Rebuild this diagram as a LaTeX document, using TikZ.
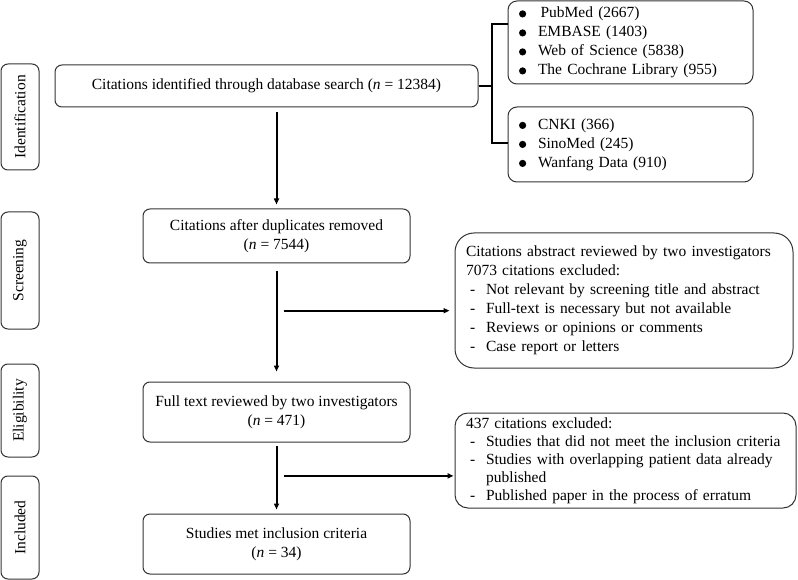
\documentclass[tikz,border=0pt]{standalone}
\usepackage{fontspec}
\setmainfont{Liberation Serif}
\usetikzlibrary{arrows.meta,calc}

% dash item / bullet item used in the side boxes
\newcommand{\dashitem}[1]{\makebox[20pt][l]{\hspace{4pt}-}#1}
\newcommand{\dbitem}[1]{\makebox[19pt][l]{\tikz[baseline=-3.8pt]\fill (0,0) circle (3.6pt);}#1}

\begin{document}
\begin{tikzpicture}[x=1pt,y=-1pt,
    font=\fontsize{15.5}{19}\selectfont,
    every node/.style={inner sep=0pt},
    box/.style={draw=black!80,line width=1pt,rounded corners=7pt,align=center},
    sidebox/.style={box,rotate=90,minimum height=38pt},
    listbox/.style={draw=black!80,line width=1pt,rounded corners=13pt,align=left,inner xsep=11pt},
    arr/.style={-{Triangle[length=6pt,width=5pt]},line width=2pt}]
  \useasboundingbox (0,0) rectangle (798,580);

  % STAGES
  \node[sidebox,minimum width=106pt] (sid)  at (20,117)   {Identification};
  \node[sidebox,minimum width=117pt] (sscr) at (20,270.5) {Screening};
  \node[sidebox,minimum width=93pt]  (sel)  at (20,410.5) {Eligibility};
  \node[sidebox,minimum width=103pt] (sinc) at (20,527.5) {Included};

  % MAIN BOXES
  \node[box,minimum width=423pt,minimum height=42pt] (ident) at (266.5,86)
    {Citations identified through database search (\textit{n} = 12384)};
  \node[box,minimum width=267pt,minimum height=54pt] (dupl) at (276.5,236)
    {Citations after duplicates removed\\(\textit{n} = 7544)};
  \node[box,minimum width=267pt,minimum height=60pt] (full) at (276.5,412)
    {Full text reviewed by two investigators\\(\textit{n} = 471)};
  \node[box,minimum width=267pt,minimum height=60pt] (incl) at (276.5,544)
    {Studies met inclusion criteria\\(\textit{n} = 34)};

  % DATABASES
  \node[listbox,rounded corners=9pt,text width=223pt,minimum height=83pt] (dbeng) at (630.5,42.5)
    {\dbitem{\,PubMed (2667)}\\\dbitem{EMBASE (1403)}\\\dbitem{Web of Science (5838)}\\\dbitem{The Cochrane Library (955)}};
  \node[listbox,rounded corners=9pt,text width=223pt,minimum height=75pt] (dbchn) at (630.5,144.5)
    {\dbitem{CNKI (366)}\\\dbitem{SinoMed (245)}\\\dbitem{Wanfang Data (910)}};

  % EXCLUSIONS
  \node[listbox,rounded corners=19pt,text width=316pt,minimum height=135pt] (exabs) at (624,300.5)
    {Citations abstract reviewed by two investigators\\
     7073 citations excluded:\\
     \dashitem{Not relevant by screening title and abstract}\\
     \dashitem{Full-text is necessary but not available}\\
     \dashitem{Reviews or opinions or comments}\\
     \dashitem{Case report or letters}};
  \node[listbox,font=\fontsize{15.5}{18}\selectfont,text width=319pt,minimum height=95pt,inner xsep=11pt] (exfull) at (625.5,460.5)
    {437 citations excluded:\\
     \dashitem{Studies that did not meet the inclusion criteria}\\
     \dashitem{Studies with overlapping patient data already}\\
     \hspace*{20pt}published\\
     \dashitem{Published paper in the process of erratum}};

  % BRACKET
  \draw[line width=2pt] (ident.east) -- ++(13,0) coordinate (bm)
    (dbeng.west |- 0,24) -- (bm |- 0,24) -- (bm |- 0,143) -- (dbchn.west |- 0,143);

  % ARROWS
  \draw[arr,shorten <=5pt,shorten >=4pt] (ident.south -| dupl.north) -- (dupl.north);
  \draw[arr,shorten <=7pt,shorten >=10pt] (dupl.south) -- (full.north);
  \draw[arr,shorten <=3pt,shorten >=4pt] (full.south) -- (incl.north);
  \coordinate (s1) at ($(dupl.south)!0.4!(full.north)$);
  \coordinate (s2) at ($(full.south)!0.47!(incl.north)$);
  \draw[arr,shorten >=5pt] ([xshift=7pt]s1) -- (s1 -| exabs.west);
  \draw[arr,shorten >=1pt] ([xshift=7pt]s2) -- (s2 -| exfull.west);
\end{tikzpicture}
\end{document}
